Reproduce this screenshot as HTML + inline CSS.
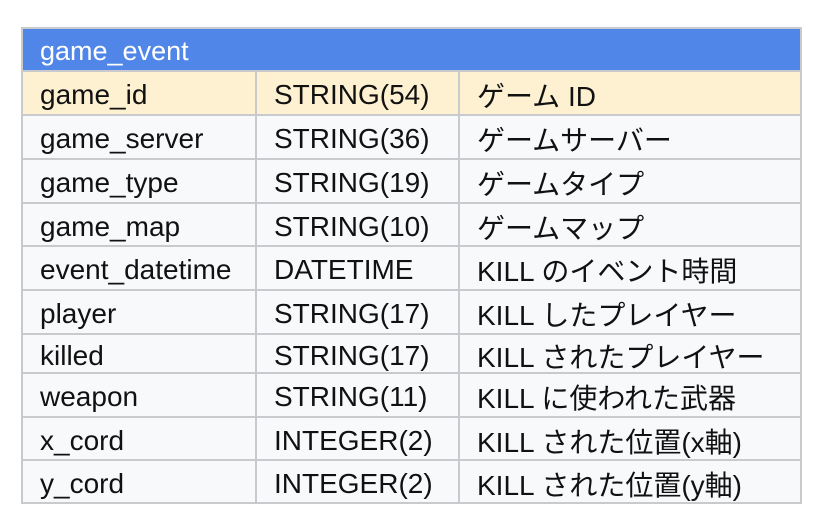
<!DOCTYPE html>
<html><head><meta charset="utf-8"><style>
html,body{margin:0;padding:0;background:#fff;width:824px;height:522px;overflow:hidden}
.t{position:absolute;left:21px;top:27px;width:781px;height:477px;background:#c8cacd}
.r{position:absolute;left:2px;width:777px;display:flex;align-items:center;font-family:"Liberation Sans","Noto Sans CJK JP",sans-serif;font-size:28px;color:#111}
.c{position:absolute;top:0;bottom:0;display:flex;align-items:center;background:#f8f9fb;padding-top:4px}
.y .c{background:#fef1d2}
.c1{left:0;width:232px;padding-left:17px;box-sizing:border-box}
.c2{left:234px;width:201px;padding-left:17px;box-sizing:border-box}
.c3{left:437px;width:340px;padding-left:17px;box-sizing:border-box}
.h{background:#5086e8;color:#fff;padding-left:17px;padding-top:4px;box-sizing:border-box;font-size:27px}
</style></head><body>
<div class="t">
<div class="r h" style="top:2px;height:41px">game_event</div>
<div class="r y" style="top:45px;height:42px"><div class="c c1">game_id</div><div class="c c2">STRING(54)</div><div class="c c3">ゲーム ID</div></div>
<div class="r" style="top:89px;height:42px"><div class="c c1">game_server</div><div class="c c2">STRING(36)</div><div class="c c3">ゲームサーバー</div></div>
<div class="r" style="top:133px;height:42px"><div class="c c1">game_type</div><div class="c c2">STRING(19)</div><div class="c c3">ゲームタイプ</div></div>
<div class="r" style="top:177px;height:41px"><div class="c c1">game_map</div><div class="c c2">STRING(10)</div><div class="c c3">ゲームマップ</div></div>
<div class="r" style="top:220px;height:42px"><div class="c c1">event_datetime</div><div class="c c2">DATETIME</div><div class="c c3">KILL のイベント時間</div></div>
<div class="r" style="top:264px;height:42px"><div class="c c1">player</div><div class="c c2">STRING(17)</div><div class="c c3">KILL したプレイヤー</div></div>
<div class="r" style="top:308px;height:37px"><div class="c c1">killed</div><div class="c c2">STRING(17)</div><div class="c c3">KILL されたプレイヤー</div></div>
<div class="r" style="top:347px;height:42px"><div class="c c1">weapon</div><div class="c c2">STRING(11)</div><div class="c c3">KILL に使われた武器</div></div>
<div class="r" style="top:391px;height:41px"><div class="c c1">x_cord</div><div class="c c2">INTEGER(2)</div><div class="c c3">KILL された位置(x軸)</div></div>
<div class="r" style="top:434px;height:41px"><div class="c c1">y_cord</div><div class="c c2">INTEGER(2)</div><div class="c c3">KILL された位置(y軸)</div></div>
</div>
</body></html>
